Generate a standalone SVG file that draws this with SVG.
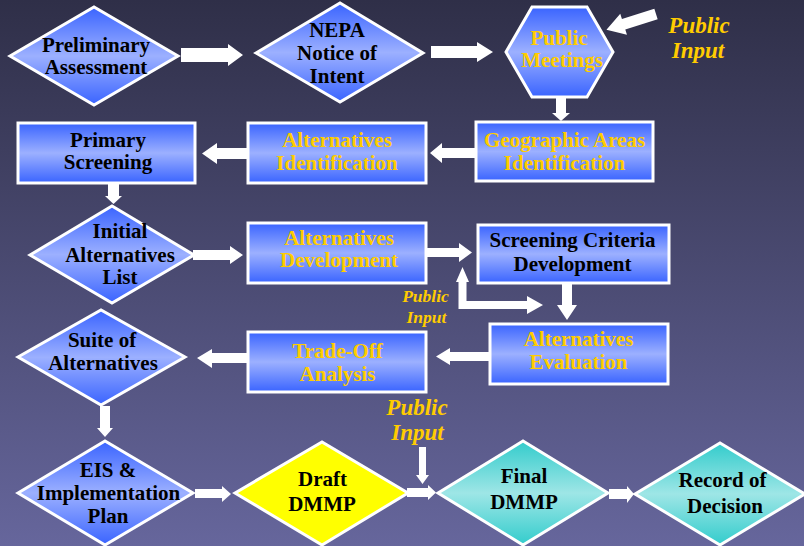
<svg xmlns="http://www.w3.org/2000/svg" width="804" height="546" viewBox="0 0 804 546">
<defs>
<linearGradient id="bg" x1="0" y1="0" x2="0" y2="1">
<stop offset="0" stop-color="#2f2f48"/>
<stop offset="1" stop-color="#66669c"/>
</linearGradient>
<linearGradient id="blue" x1="0" y1="0" x2="0" y2="1">
<stop offset="0" stop-color="#3a64ff"/>
<stop offset="0.5" stop-color="#9cb0ff"/>
<stop offset="1" stop-color="#3a64ff"/>
</linearGradient>
<linearGradient id="teal" x1="0" y1="0" x2="0" y2="1">
<stop offset="0" stop-color="#33cccc"/>
<stop offset="0.5" stop-color="#9ee6e6"/>
<stop offset="1" stop-color="#33cccc"/>
</linearGradient>
</defs>
<style>
.n{stroke:#fff;stroke-width:3;fill:url(#blue)}
.t{fill:url(#teal);stroke:#fff;stroke-width:3}
.y{fill:#ffff00;stroke:#fff;stroke-width:3}
text{font-family:"Liberation Serif","Times New Roman",serif;font-weight:bold;font-size:21px;text-anchor:middle}
.k{fill:#000}
.g{fill:#ffcc00}
.pi{fill:#ffcc00;font-style:italic;font-size:23px}
.ps{fill:#ffcc00;font-style:italic;font-size:17.5px}
.a{fill:#fff}
</style>
<rect width="804" height="546" fill="url(#bg)"/>

<g id="connectors" class="a">
<path d="M181,48 L228,48 L228,44 L243,55 L228,66 L228,62 L181,62 Z"/>
<path d="M431,46 L477,46 L477,42 L493,52 L477,62 L477,58 L431,58 Z"/>
<path transform="translate(656,14) rotate(162.3)" d="M0,-5.5 L34,-5.5 L34,-11 L52,0 L34,11 L34,5.5 L0,5.5 Z"/>
<path d="M556,97 L566,97 L566,113 L570,113 L561,121 L552,113 L556,113 Z"/>
<path d="M476,148 L442,148 L442,143 L430,153 L442,163 L442,158 L476,158 Z"/>
<path d="M248,148 L217,148 L217,143 L202,153.5 L217,164 L217,159 L248,159 Z"/>
<path d="M108,183 L119,183 L119,196 L122,196 L113.5,204 L105,196 L108,196 Z"/>
<path d="M193,250 L230,250 L230,246 L243,255 L230,264 L230,260 L193,260 Z"/>
<path d="M426,248 L459,248 L459,243 L472,252.5 L459,262 L459,257 L426,257 Z"/>
<path d="M462.5,267 L469,282 L466.5,282 L466.5,301 L527,301 L527,296 L543,305 L527,314 L527,309 L458.5,309 L458.5,282 L456,282 Z"/>
<path d="M562,283 L572,283 L572,305 L577,305 L567,320 L557,305 L562,305 Z"/>
<path d="M490,352 L450,352 L450,348 L436,356.5 L450,365 L450,361 L490,361 Z"/>
<path d="M248,353 L212,353 L212,349 L197,358 L212,368 L212,363 L248,363 Z"/>
<path d="M100,406 L110,406 L110,428 L113,428 L105,437 L97,428 L100,428 Z"/>
<path d="M195,489 L222,489 L222,486 L231,494 L222,502 L222,498 L195,498 Z"/>
<path d="M407,488 L428,488 L428,485 L436,492.5 L428,500 L428,497 L407,497 Z"/>
<path d="M419,447 L426,447 L426,475 L429,475 L422.5,484 L416,475 L419,475 Z"/>
<path d="M609,489 L627,489 L627,486 L634,494 L627,503 L627,499 L609,499 Z"/>
</g>

<g id="preliminary">
<polygon class="n" points="10,56 94,7 178,56 94,105"/>
<text class="k" x="96" y="52">Preliminary</text>
<text class="k" x="96" y="74">Assessment</text>
</g>
<g id="nepa">
<polygon class="n" points="256,53 340,3 423,53 340,102"/>
<text class="k" x="337" y="37">NEPA</text>
<text class="k" x="337" y="60">Notice of</text>
<text class="k" x="337" y="83">Intent</text>
</g>
<g id="public-meetings">
<polygon class="n" points="506,52 532,7 587,7 613,52 587,97 532,97"/>
<text class="g" x="559" y="45">Public</text>
<text class="g" x="562" y="67">Meetings</text>
</g>
<g id="public-input-1">
<text class="pi" x="699" y="33">Public</text>
<text class="pi" x="698" y="58">Input</text>
</g>
<g id="geographic">
<rect class="n" x="476" y="122" width="177" height="59"/>
<text class="g" x="564.5" y="147">Geographic Areas</text>
<text class="g" x="564.5" y="170">Identification</text>
</g>
<g id="alt-identification">
<rect class="n" x="248" y="123" width="178" height="60"/>
<text class="g" x="337" y="147">Alternatives</text>
<text class="g" x="337" y="170">Identification</text>
</g>
<g id="primary-screening">
<rect class="n" x="18" y="123" width="177" height="60"/>
<text class="k" x="108" y="147">Primary</text>
<text class="k" x="108" y="169">Screening</text>
</g>
<g id="initial-list">
<polygon class="n" points="30,255 112,206 194,255 112,303"/>
<text class="k" x="120" y="238">Initial</text>
<text class="k" x="120" y="262">Alternatives</text>
<text class="k" x="120" y="284">List</text>
</g>
<g id="alt-development">
<rect class="n" x="248" y="223" width="178" height="60"/>
<text class="g" x="339" y="245">Alternatives</text>
<text class="g" x="339" y="267">Development</text>
</g>
<g id="screening-criteria">
<rect class="n" x="478" y="225" width="191" height="58"/>
<text class="k" x="572.5" y="247">Screening Criteria</text>
<text class="k" x="572.5" y="271">Development</text>
</g>
<g id="public-input-2">
<text class="ps" x="425.5" y="302">Public</text>
<text class="ps" x="426.5" y="323">Input</text>
</g>
<g id="alt-evaluation">
<rect class="n" x="490" y="324" width="178" height="60"/>
<text class="g" x="578.5" y="346">Alternatives</text>
<text class="g" x="578.5" y="369">Evaluation</text>
</g>
<g id="trade-off">
<rect class="n" x="248" y="332" width="178" height="60"/>
<text class="g" x="337.5" y="358">Trade-Off</text>
<text class="g" x="337.5" y="381">Analysis</text>
</g>
<g id="suite">
<polygon class="n" points="18,357 101,310 185,357 101,405"/>
<text class="k" x="102" y="347">Suite of</text>
<text class="k" x="103" y="370">Alternatives</text>
</g>
<g id="eis">
<polygon class="n" points="18,493 105,441 193,493 105,545"/>
<text class="k" x="108" y="477">EIS &amp;</text>
<text class="k" x="108.5" y="500">Implementation</text>
<text class="k" x="108" y="523">Plan</text>
</g>
<g id="draft">
<polygon class="y" points="235,493 322,442 408,493 322,545"/>
<text class="k" x="322.5" y="486">Draft</text>
<text class="k" x="322" y="511">DMMP</text>
</g>
<g id="public-input-3">
<text class="pi" x="417" y="415">Public</text>
<text class="pi" x="417.5" y="440">Input</text>
</g>
<g id="final">
<polygon class="t" points="438,493 523,441 608,493 523,545"/>
<text class="k" x="524" y="483">Final</text>
<text class="k" x="524" y="509">DMMP</text>
</g>
<g id="record">
<polygon class="t" points="635,494 720,443 805,494 720,545"/>
<text class="k" x="722.5" y="487">Record of</text>
<text class="k" x="725" y="513">Decision</text>
</g>
</svg>
